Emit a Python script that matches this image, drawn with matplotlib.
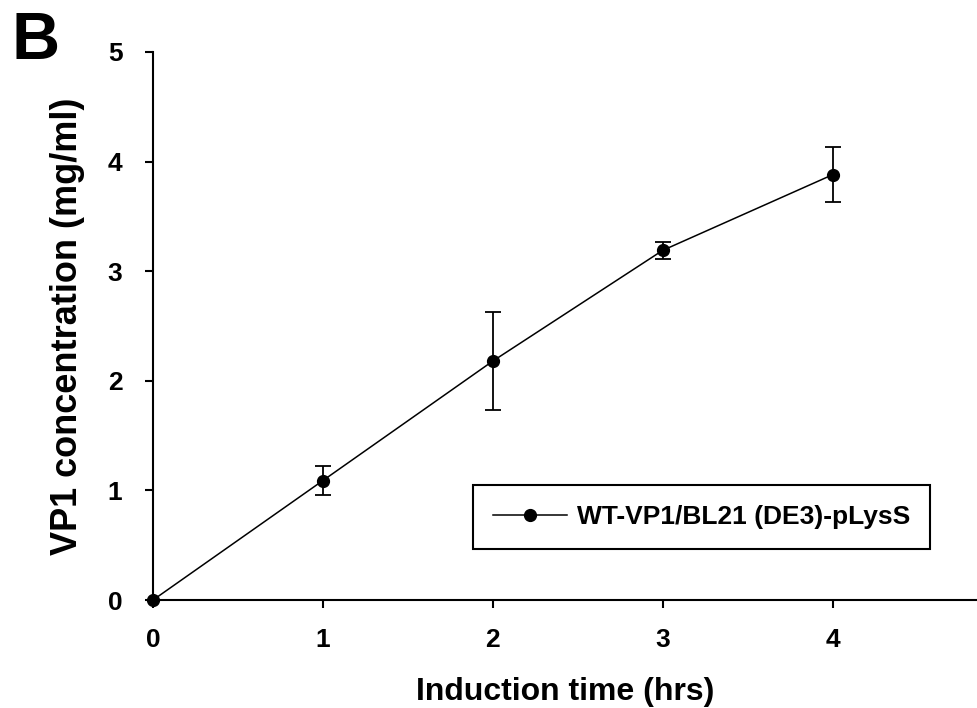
import matplotlib
matplotlib.use("Agg")
import matplotlib.pyplot as plt
from matplotlib.lines import Line2D

# data
hours = [0, 1, 2, 3, 4]
vp1_conc = [0.0, 1.09, 2.18, 3.19, 3.88]
vp1_err = [0.0, 0.13, 0.45, 0.08, 0.25]
series_label = "WT-VP1/BL21 (DE3)-pLysS"
xticks = [0, 1, 2, 3, 4]
yticks = [0, 1, 2, 3, 4, 5]

plt.rcParams['font.family'] = ['Liberation Sans', 'DejaVu Sans']
narrow = ['Liberation Sans Narrow', 'Liberation Sans', 'DejaVu Sans']

fig = plt.figure(figsize=(9.77, 7.08), dpi=100)
ax = fig.add_axes([0.1566, 0.1525, 0.8434, 0.7741])

eb = ax.errorbar(hours, vp1_conc, yerr=vp1_err, color='black', lw=1.1,
                 marker='o', ms=8.5, capsize=6, elinewidth=1.3, capthick=1.3)
eb[0].set_clip_on(False)

ax.set_xlim(0, 4.85)
ax.set_ylim(0, 5)
ax.set_xticks(xticks)
ax.set_yticks(yticks)
ax.spines['top'].set_visible(False)
ax.spines['right'].set_visible(False)
for s in ['left', 'bottom']:
    ax.spines[s].set_linewidth(1.5)
ax.tick_params(direction='out', length=6, width=1.5, pad=14)
for t in ax.get_xticklabels() + ax.get_yticklabels():
    t.set_family(narrow)
    t.set_fontweight('bold')
    t.set_fontsize(19)
ax.tick_params(axis='y', pad=16)

ax.set_xlabel("Induction time (hrs)", fontsize=23, fontweight='bold', labelpad=18)
ax.set_ylabel("VP1 concentration (mg/ml)", fontsize=26, fontweight='bold', labelpad=16)

handle = Line2D([], [], color='black', lw=1.1, marker='o', ms=8.5)
leg = ax.legend([handle], [series_label], loc='center', bbox_to_anchor=(0.666, 0.1515),
                frameon=True, fancybox=False, edgecolor='black', framealpha=1,
                handlelength=2.8, handletextpad=0.4, borderpad=0.75, borderaxespad=0,
                prop={'weight': 'bold', 'size': 19})
leg.get_frame().set_linewidth(1.5)

fig.text(0.012, 0.985, "B", fontsize=48, fontweight='bold', va='top', ha='left')

fig.savefig("out.png", dpi=100)
